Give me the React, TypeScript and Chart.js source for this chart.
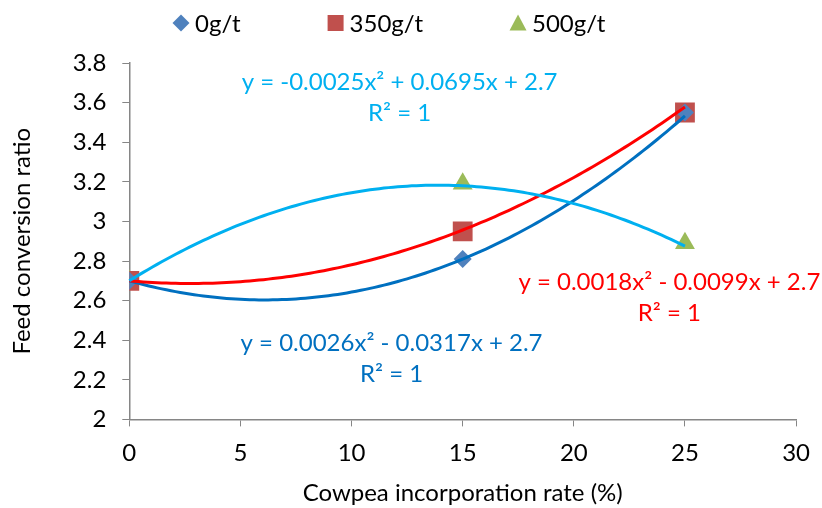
import React, { useEffect, useRef } from 'react';
import { Chart, registerables } from 'chart.js';

Chart.register(...registerables);

// ---- data ----
const xValues = [0, 15, 25];
const seriesNames = ['0g/t', '350g/t', '500g/t'];
const values0 = [2.7, 2.81, 3.55];
const values350 = [2.7, 2.95, 3.55];
const values500 = [2.7, 3.19, 2.89];

// trendline coefficients [a, b, c] for y = a x² + b x + c
const trendCoef0 = [0.0026, -0.0317, 2.7];
const trendCoef350 = [0.0018, -0.0099, 2.7];
const trendCoef500 = [-0.0025, 0.0695, 2.7];
const trendRange = [0, 25];

const equation0 = ['y = 0.0026x² - 0.0317x + 2.7', 'R² = 1'];
const equation350 = ['y = 0.0018x² - 0.0099x + 2.7', 'R² = 1'];
const equation500 = ['y = -0.0025x² + 0.0695x + 2.7', 'R² = 1'];

const xTitle = 'Cowpea incorporation rate (%)';
const yTitle = 'Feed conversion ratio';

// ---- styles ----
const FONT = 'Lato';
const FS = 24;
const markerColors = ['#4F81BD', '#C0504D', '#9BBB59'];
const markerStyles = ['rectRot', 'rect', 'triangle'];
const markerRadius = [9, 14, 11.5];
const trendColors = ['#0070C0', '#FF0000', '#00B0F0'];
const AXIS_COLOR = '#868686';

const trends = [
  { coef: trendCoef0, color: trendColors[0], label: equation0, anchor: [11.8, 2.382] },
  { coef: trendCoef350, color: trendColors[1], label: equation350, anchor: [24.3, 2.694] },
  { coef: trendCoef500, color: trendColors[2], label: equation500, anchor: [12.16, 3.704] },
];

const trendPlugin = {
  id: 'trendlines',
  afterDatasetsDraw(chart: any) {
    const { ctx, scales } = chart;
    const sx = scales.x;
    const sy = scales.y;
    ctx.save();
    trends.forEach((t) => {
      ctx.beginPath();
      const n = 120;
      for (let i = 0; i <= n; i++) {
        const xv = trendRange[0] + ((trendRange[1] - trendRange[0]) * i) / n;
        const yv = t.coef[0] * xv * xv + t.coef[1] * xv + t.coef[2];
        const px = sx.getPixelForValue(xv);
        const py = sy.getPixelForValue(yv);
        if (i === 0) ctx.moveTo(px, py);
        else ctx.lineTo(px, py);
      }
      ctx.strokeStyle = t.color;
      ctx.lineWidth = 3;
      ctx.lineJoin = 'round';
      ctx.stroke();
    });
    ctx.font = `${FS}px ${FONT}`;
    ctx.textAlign = 'center';
    ctx.textBaseline = 'middle';
    trends.forEach((t) => {
      const px = sx.getPixelForValue(t.anchor[0]);
      const py = sy.getPixelForValue(t.anchor[1]);
      ctx.fillStyle = t.color;
      t.label.forEach((line, i) => ctx.fillText(line, px, py + i * 31));
    });
    ctx.restore();
  },
};

function drawMarker(ctx: CanvasRenderingContext2D, style: string, x: number, y: number, s: number) {
  ctx.beginPath();
  if (style === 'rectRot') {
    ctx.moveTo(x, y - s);
    ctx.lineTo(x + s, y);
    ctx.lineTo(x, y + s);
    ctx.lineTo(x - s, y);
    ctx.closePath();
  } else if (style === 'rect') {
    ctx.rect(x - s, y - s, 2 * s, 2 * s);
  } else {
    const h = s * 1.75;
    ctx.moveTo(x, y - h / 2 - 1);
    ctx.lineTo(x + s, y + h / 2);
    ctx.lineTo(x - s, y + h / 2);
    ctx.closePath();
  }
  ctx.fill();
}

const legendPlugin = {
  id: 'customLegend',
  afterDraw(chart: any) {
    const { ctx } = chart;
    ctx.save();
    ctx.font = `${FS}px ${FONT}`;
    ctx.textBaseline = 'middle';
    ctx.textAlign = 'left';
    const sizes = [8.5, 8, 8.5];
    const y = 23;
    let x = 181;
    seriesNames.forEach((name, i) => {
      ctx.fillStyle = markerColors[i];
      drawMarker(ctx, markerStyles[i], x, y, sizes[i]);
      ctx.fillStyle = '#000';
      const tx = x + 14;
      ctx.fillText(name, tx, y + 1);
      x = tx + ctx.measureText(name).width + 95;
    });
    ctx.restore();
  },
};

export default function App() {
  const canvasRef = useRef<HTMLCanvasElement | null>(null);

  useEffect(() => {
    const canvas = canvasRef.current;
    if (!canvas) return;
    const valueSets = [values0, values350, values500];
    const chart = new Chart(canvas, {
      type: 'scatter',
      data: {
        datasets: seriesNames.map((name, i) => ({
          label: name,
          data: xValues.map((xv, j) => ({ x: xv, y: valueSets[i][j] })),
          pointStyle: markerStyles[i] as any,
          pointRadius: markerRadius[i],
          pointHoverRadius: markerRadius[i],
          pointBackgroundColor: markerColors[i],
          pointBorderColor: markerColors[i],
          pointBorderWidth: 0,
          showLine: false,
        })),
      },
      options: {
        responsive: false,
        animation: false,
        layout: { padding: { top: 63, left: 6, right: 18, bottom: 0 } },
        plugins: {
          legend: { display: false },
          tooltip: { enabled: false },
        },
        scales: {
          x: {
            type: 'linear',
            min: 0,
            max: 30,
            ticks: { stepSize: 5, color: '#000', font: { family: FONT, size: FS }, padding: 12 },
            grid: { display: true, drawOnChartArea: false, drawTicks: true, tickLength: 7, color: AXIS_COLOR, lineWidth: 1 },
            border: { display: true, color: AXIS_COLOR, width: 1.5 },
            title: { display: true, text: xTitle, color: '#000', font: { family: FONT, size: FS }, padding: { top: 0, bottom: 0 } },
          },
          y: {
            type: 'linear',
            min: 2,
            max: 3.8,
            ticks: {
              stepSize: 0.2,
              color: '#000',
              font: { family: FONT, size: FS },
              padding: 16,
              callback: (v: any) => String(Math.round(Number(v) * 10) / 10),
            },
            grid: { display: true, drawOnChartArea: false, drawTicks: true, tickLength: 7, color: AXIS_COLOR, lineWidth: 1 },
            border: { display: true, color: AXIS_COLOR, width: 1.5 },
            title: { display: true, text: yTitle, color: '#000', font: { family: FONT, size: FS }, padding: { top: 2, bottom: 20 } },
          },
        },
      },
      plugins: [trendPlugin, legendPlugin],
    });
    return () => chart.destroy();
  }, []);

  return (
    <div style={{ position: 'absolute', left: 0, top: 0, width: 822, height: 508, background: '#fff' }}>
      <canvas ref={canvasRef} width={822} height={508} />
    </div>
  );
}
